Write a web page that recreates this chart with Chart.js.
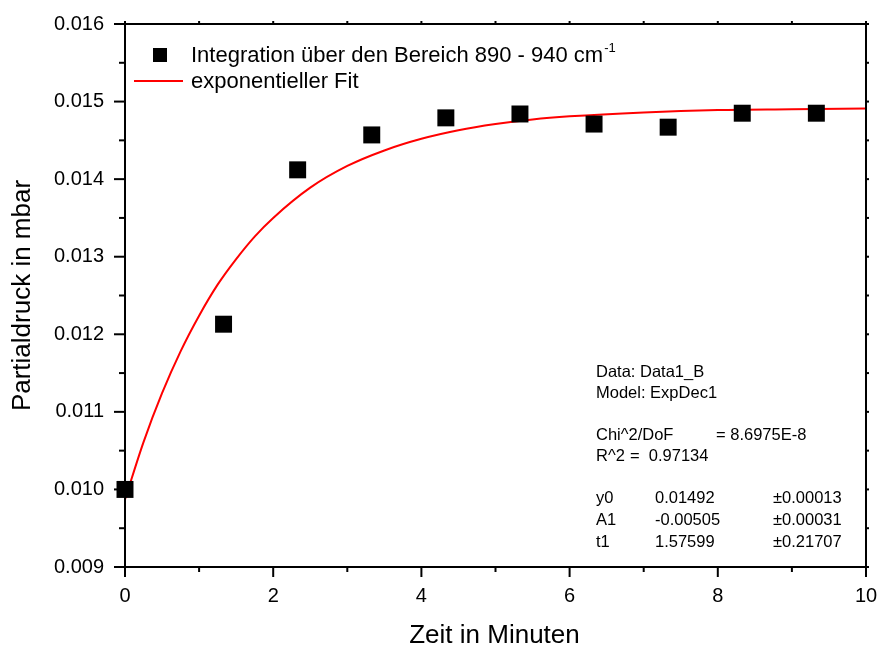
<!DOCTYPE html>
<html>
<head>
<meta charset="utf-8">
<script src="https://cdn.jsdelivr.net/npm/chart.js@4.4.0/dist/chart.umd.min.js"></script>
<style>
html,body{margin:0;padding:0;background:#fff;}
#wrap{width:880px;height:647px;position:relative;}
</style>
</head>
<body>
<div id="wrap"><canvas id="c" width="880" height="647"></canvas></div>
<script>
// Measured data (time in minutes, partial pressure in mbar)
const timeMin = [0, 1.33, 2.33, 3.33, 4.33, 5.33, 6.33, 7.33, 8.33, 9.33];
const pressure = [0.01000, 0.01213, 0.01412, 0.01457, 0.01479, 0.01484, 0.01471, 0.01467, 0.01485, 0.01485];
// Fit curve
const fitX = [0, 0.25, 0.5, 0.75, 1.0, 1.25, 1.5, 1.75, 2.0, 2.5, 3.0, 3.5, 4.0, 4.5, 5.0, 5.5, 6.0, 7.0, 8.0, 9.0, 10.0];
const fitY = [0.00987, 0.01061, 0.01124, 0.01178, 0.01224, 0.01264, 0.01297, 0.01326, 0.01350, 0.01389, 0.01417, 0.01437, 0.01452, 0.01463, 0.01471, 0.01477, 0.01481, 0.01486, 0.01489, 0.01490, 0.01491];
const xTicks = [0, 2, 4, 6, 8, 10];
const yTicks = [0.009, 0.010, 0.011, 0.012, 0.013, 0.014, 0.015, 0.016];
const legendLabels = ["Integration über den Bereich 890 - 940 cm", "exponentieller Fit"];
const fitInfo = [
  ["Data: Data1_B"], ["Model: ExpDec1"], [],
  ["Chi^2/DoF", "= 8.6975E-8"], ["R^2", "=  0.97134"], [],
  ["y0", "0.01492", "±0.00013"], ["A1", "-0.00505", "±0.00031"], ["t1", "1.57599", "±0.21707"]
];

const FONT = "'Liberation Sans', Arial, sans-serif";

const framePlugin = {
  id: 'frame',
  afterDraw(chart) {
    const ctx = chart.ctx;
    const xs = chart.scales.x, ys = chart.scales.y;
    const a = chart.chartArea;
    ctx.save();
    ctx.strokeStyle = '#000';
    ctx.lineWidth = 2;
    ctx.strokeRect(a.left, a.top, a.right - a.left, a.bottom - a.top);
    // x ticks
    for (let v = 0; v <= 10; v += 1) {
      const px = xs.getPixelForValue(v);
      const major = (v % 2 === 0);
      const len = major ? 10 : 5;
      ctx.beginPath(); ctx.moveTo(px, a.bottom); ctx.lineTo(px, a.bottom + len); ctx.stroke();
      ctx.beginPath(); ctx.moveTo(px, a.top); ctx.lineTo(px, a.top - 3); ctx.stroke();
    }
    for (let i = 0; i <= 14; i++) {
      const v = 0.009 + i * 0.0005;
      const py = ys.getPixelForValue(v);
      const major = (i % 2 === 0);
      const len = major ? 11 : 6;
      ctx.beginPath(); ctx.moveTo(a.left, py); ctx.lineTo(a.left - len, py); ctx.stroke();
      ctx.beginPath(); ctx.moveTo(a.right, py); ctx.lineTo(a.right + 3, py); ctx.stroke();
    }
    // axis titles
    ctx.fillStyle = '#000';
    ctx.font = '26px ' + FONT;
    ctx.textAlign = 'center'; ctx.textBaseline = 'alphabetic';
    ctx.fillText('Zeit in Minuten', (a.left + a.right) / 2 - 1, 643);
    ctx.save();
    ctx.translate(30, (a.top + a.bottom) / 2);
    ctx.rotate(-Math.PI / 2);
    ctx.fillText('Partialdruck in mbar', 0, 0);
    ctx.restore();
    // legend
    ctx.fillStyle = '#000';
    ctx.fillRect(153, 48, 14, 14);
    ctx.font = '22px ' + FONT;
    ctx.textAlign = 'left'; ctx.textBaseline = 'alphabetic';
    ctx.fillText(legendLabels[0], 191, 62);
    const w0 = ctx.measureText(legendLabels[0]).width;
    ctx.font = '13px ' + FONT;
    ctx.fillText('-1', 191 + w0 + 1, 52);
    ctx.font = '22px ' + FONT;
    ctx.fillText(legendLabels[1], 191, 88);
    ctx.strokeStyle = '#ff0000'; ctx.lineWidth = 2;
    ctx.beginPath(); ctx.moveTo(134, 81); ctx.lineTo(183, 81); ctx.stroke();
    // fit info
    ctx.fillStyle = '#000';
    ctx.font = '16.5px ' + FONT;
    ctx.textBaseline = 'middle';
    const cols = [596, 655, 773];
    const lineYs = [372, 393, 414, 435, 456, 477, 498, 520, 542];
    fitInfo.forEach((row, i) => {
      if (row.length === 0) return;
      if (row.length === 1) ctx.fillText(row[0], cols[0], lineYs[i]);
      else if (row.length === 2) {
        ctx.fillText(row[0], cols[0], lineYs[i]);
        ctx.fillText(row[1], i === 3 ? 716 : 630, lineYs[i]);
      } else {
        row.forEach((t, j) => ctx.fillText(t, cols[j], lineYs[i]));
      }
    });
    ctx.restore();
  }
};

new Chart(document.getElementById('c'), {
  type: 'scatter',
  data: {
    datasets: [
      {
        label: legendLabels[1],
        data: fitX.map((x, i) => ({x, y: fitY[i]})),
        showLine: true,
        borderColor: '#ff0000',
        borderWidth: 2,
        pointRadius: 0,
        cubicInterpolationMode: 'monotone',
        order: 2
      },
      {
        label: legendLabels[0],
        data: timeMin.map((x, i) => ({x, y: pressure[i]})),
        pointStyle: 'rect',
        pointRadius: 12,
        pointHoverRadius: 12,
        backgroundColor: '#000',
        borderColor: '#000',
        borderWidth: 0,
        order: 1
      }
    ]
  },
  options: {
    responsive: false,
    animation: false,
    clip: false,
    layout: { padding: { top: 24, right: 14, left: 0, bottom: 0 } },
    plugins: { legend: { display: false }, tooltip: { enabled: false } },
    scales: {
      x: {
        type: 'linear', min: 0, max: 10,
        grid: { display: false },
        border: { display: false },
        ticks: { stepSize: 2, padding: 9, color: '#000', font: { family: FONT, size: 20 } },
        afterFit(s) { s.height = 80; s.paddingLeft = 0; s.paddingRight = 0; }
      },
      y: {
        type: 'linear', min: 0.009, max: 0.016,
        grid: { display: false },
        border: { display: false },
        ticks: { stepSize: 0.001, padding: 13, color: '#000', font: { family: FONT, size: 20 },
          callback: v => Number(v).toFixed(3) },
        afterFit(s) { s.width = 125; s.paddingTop = 0; s.paddingBottom = 0; }
      }
    }
  },
  plugins: [framePlugin]
});
</script>
</body>
</html>
